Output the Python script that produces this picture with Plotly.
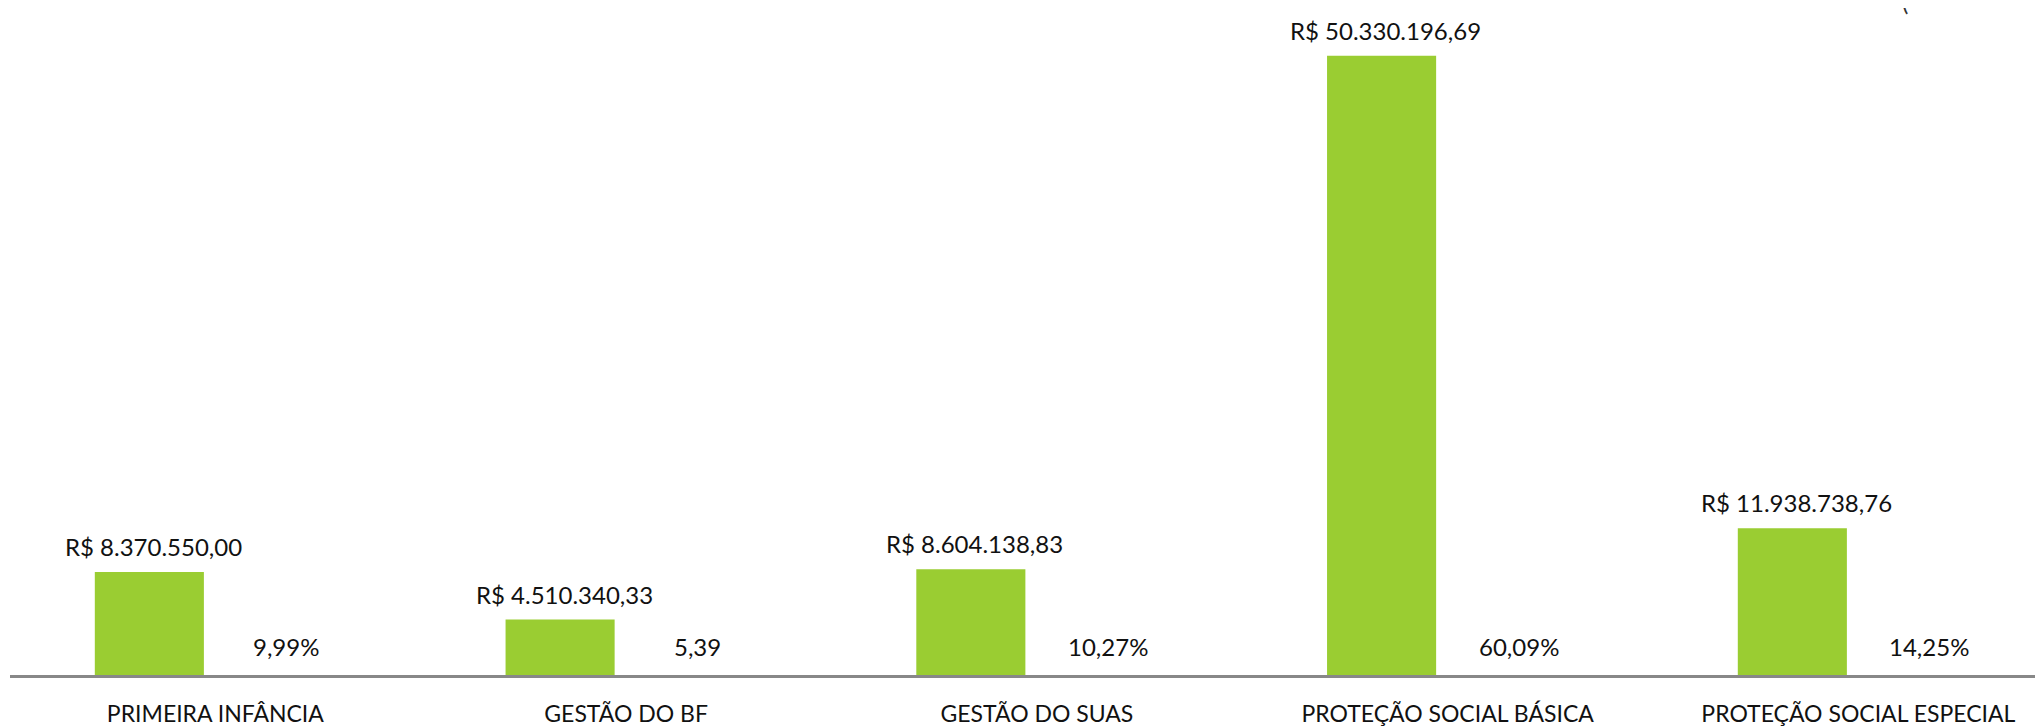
import plotly.graph_objects as go

categorias = ["PRIMEIRA INFÂNCIA", "GESTÃO DO BF", "GESTÃO DO SUAS",
              "PROTEÇÃO SOCIAL BÁSICA", "PROTEÇÃO SOCIAL ESPECIAL"]
valores = [8370550.00, 4510340.33, 8604138.83, 50330196.69, 11938738.76]
percentuais = [9.99, 5.39, 10.27, 60.09, 14.25]
rotulos_percentual = ["9,99%", "5,39", "10,27%", "60,09%", "14,25%"]


def brl(v):
    s = f"{v:,.2f}"
    s = s.replace(",", "X").replace(".", ",").replace("X", ".")
    return "R$ " + s


rotulos_valor = [brl(v) for v in valores]

FONT = "Lato"
FS_CAT = 23
FS_LBL = 24
GREEN = "#9ACD32"
TXT = "#111111"

fig = go.Figure()
fig.add_trace(go.Bar(x=categorias, y=valores, marker_color=GREEN,
                     marker_line_width=0, showlegend=False, hoverinfo="skip"))
fig.add_trace(go.Bar(x=categorias, y=percentuais, marker_color="rgba(0,0,0,0)",
                     marker_line_width=0, showlegend=False, hoverinfo="skip"))

ann = []
for c, v, t in zip(categorias, valores, rotulos_valor):
    ann.append(dict(x=c, y=v, xref="x", yref="y", text=t, showarrow=False,
                    xshift=-62, yanchor="bottom", yshift=9,
                    font=dict(family=FONT, size=FS_LBL, color=TXT)))
for c, t in zip(categorias, rotulos_percentual):
    ann.append(dict(x=c, y=0, xref="x", yref="y", text=t, showarrow=False,
                    xshift=71, yanchor="bottom", yshift=12,
                    font=dict(family=FONT, size=FS_LBL, color=TXT)))
ann.append(dict(x=(1902 - 2) / 2033, y=1, xref="paper", yref="paper", text="(",
                showarrow=False, yanchor="bottom", yshift=-10,
                font=dict(family=FONT, size=FS_LBL, color="#333333")))

fig.update_layout(
    width=2035, height=719,
    margin=dict(l=2, r=0, t=0, b=45),
    paper_bgcolor="white", plot_bgcolor="white",
    barmode="group", bargap=0.357, bargroupgap=0.174,
    font=dict(family=FONT, size=FS_CAT, color=TXT),
    annotations=ann,
    xaxis=dict(range=[-0.5, 4.4495], showline=True, linecolor="#888888",
               linewidth=3, ticks="", showgrid=False, zeroline=False,
               ticklabelstandoff=16,
               tickfont=dict(family=FONT, size=FS_CAT, color=TXT)),
    yaxis=dict(range=[0, 54.22e6], visible=False, showgrid=False,
               zeroline=False),
)

fig.write_html("out.html")
